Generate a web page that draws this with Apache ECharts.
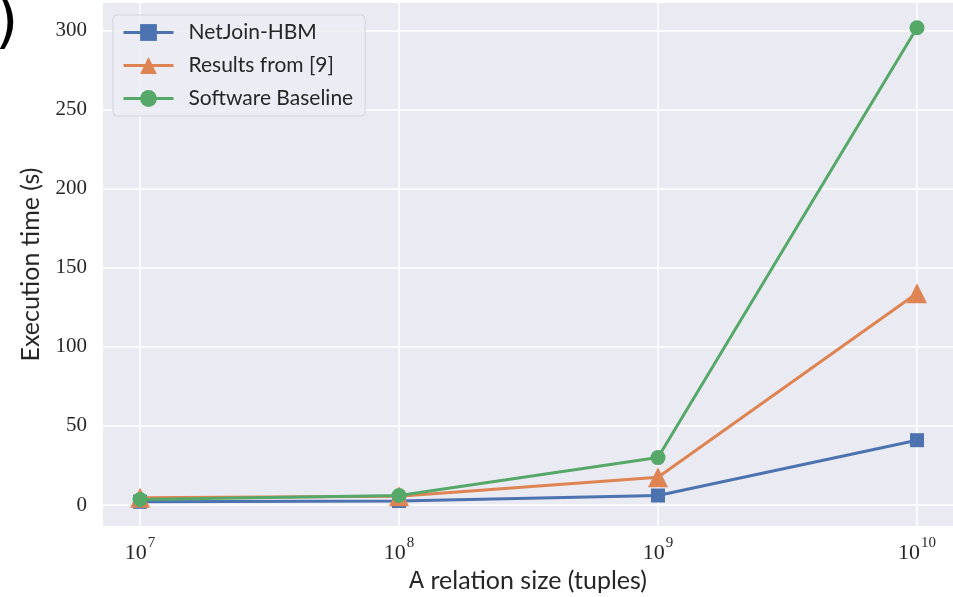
<!DOCTYPE html>
<html>
<head>
<meta charset="utf-8">
<script src="https://cdn.jsdelivr.net/npm/echarts@6/dist/echarts.min.js"></script>
<style>
html,body{margin:0;padding:0;background:#fff;}
#chart{width:953px;height:597px;}
</style>
</head>
<body>
<div id="chart"></div>
<script>
// Relation sizes as powers of ten (10^7 ... 10^10)
const sizeExponents = [7, 8, 9, 10];
const yTicks = [0, 50, 100, 150, 200, 250, 300];
const seriesNames = ['NetJoin-HBM', 'Results from [9]', 'Software Baseline'];
const netJoinHBM = [2, 2.5, 6, 41];
const resultsFrom9 = [4.5, 5.5, 17.5, 134];
const softwareBaseline = [3.5, 6, 30, 302];

const colors = ['#4C72B0', '#DD8452', '#55A868'];
const symbols = ['rect', 'triangle', 'circle'];
const symbolSizes = [14, 20, 15];
const values = [netJoinHBM, resultsFrom9, softwareBaseline];

const chart = echarts.init(document.getElementById('chart'), null, {renderer: 'canvas'});

const series = seriesNames.map((name, i) => ({
  name: name,
  type: 'line',
  data: sizeExponents.map((e, j) => [e, values[i][j]]),
  symbol: symbols[i],
  symbolSize: symbolSizes[i],
  showAllSymbol: true,
  lineStyle: {color: colors[i], width: 3},
  itemStyle: {color: colors[i]},
  z: 3 + i
}));

const option = {
  backgroundColor: '#ffffff',
  animation: false,
  grid: {left: 103, right: 0, top: 3, bottom: 71, show: true, backgroundColor: '#EAEAF2', borderWidth: 0,
         containLabel: false, outerBoundsMode: 'none'},
  xAxis: {
    type: 'value',
    min: 6.857,
    max: 10.139,
    name: '{tt|A} relation size (tuples)',
    nameLocation: 'middle',
    nameGap: 40,
    nameTextStyle: {
      fontFamily: 'Lato', fontSize: 25, color: '#262626',
      rich: {tt: {fontFamily: 'Liberation Mono', fontSize: 25, color: '#262626'}}
    },
    axisLine: {show: false},
    axisTick: {show: false, customValues: sizeExponents},
    splitLine: {show: true, lineStyle: {color: '#ffffff', width: 1.5}},
    axisLabel: {
      customValues: sizeExponents,
      margin: 10,
      formatter: v => '{b|10}{s|' + v + '}',
      rich: {
        b: {fontFamily: 'Liberation Serif', fontSize: 22, color: '#262626', verticalAlign: 'bottom', lineHeight: 28},
        s: {fontFamily: 'Liberation Serif', fontSize: 15, color: '#262626', verticalAlign: 'top', lineHeight: 28, padding: [0, 0, 12, 1]}
      }
    }
  },
  yAxis: {
    type: 'value',
    min: -13.3,
    max: 317.7,
    name: 'Execution time (s)',
    nameLocation: 'middle',
    nameGap: 60,
    nameTextStyle: {fontFamily: 'Lato', fontSize: 25, color: '#262626'},
    axisLine: {show: false},
    axisTick: {show: false, customValues: yTicks},
    splitLine: {show: true, lineStyle: {color: '#ffffff', width: 1.5}},
    axisLabel: {
      customValues: yTicks,
      margin: 16,
      fontFamily: 'Liberation Serif', fontSize: 21, color: '#262626'
    }
  },
  legend: {
    orient: 'vertical',
    left: 113,
    top: 15,
    data: seriesNames,
    itemWidth: 50,
    itemHeight: 21,
    itemGap: 12,
    padding: [7, 12, 7, 9],
    backgroundColor: 'rgba(236,236,244,0.85)',
    borderColor: '#d3d3dc',
    borderWidth: 1,
    borderRadius: 4,
    lineStyle: {width: 3},
    textStyle: {fontFamily: 'Lato', fontSize: 21, color: '#262626', padding: [0, 0, 0, 10]}
  },
  graphic: [{
    type: 'text',
    left: -5,
    top: -5,
    style: {text: ')', fontFamily: 'DejaVu Sans', fontSize: 60, fill: '#000000'}
  }],
  series: series
};

chart.setOption(option);
</script>
</body>
</html>
